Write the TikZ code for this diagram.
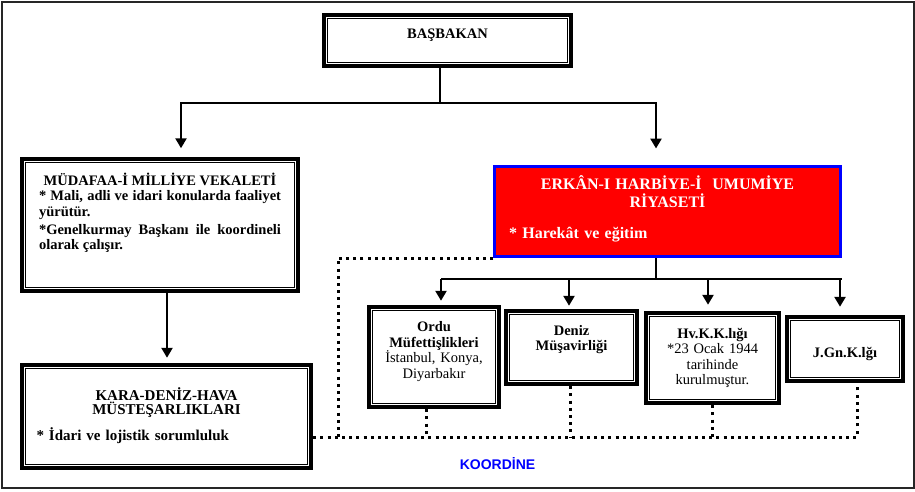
\documentclass[tikz,border=0pt]{standalone}
\usepackage{fontspec}
\setmainfont{Liberation Serif}
\newfontfamily\arialfont{Liberation Sans}
\usetikzlibrary{arrows.meta}
\hyphenpenalty=10000

\begin{document}
\begin{tikzpicture}[x=1pt, y=-1pt, >={Triangle[width=11pt,length=10pt]},
  kutu/.style={draw, line width=4.5pt, inner ysep=0pt, inner xsep=5pt, align=center, font=\fontsize{14.5}{15.5}\selectfont\bfseries},
  kirmizi/.style={draw=blue, fill=red, line width=3pt, text=white, inner ysep=0pt, align=left, font=\fontsize{16}{18}\selectfont\bfseries},
  ok/.style={line width=2.8pt},
  nokta/.style={line width=3pt, dash pattern=on 3pt off 4.2pt}]
\useasboundingbox (0,0) rectangle (915,491);
\draw[line width=2pt, black!85] (1.5,1.5) rectangle (913.5,487.5);

\node[kutu, inner xsep=0pt, text width=247pt, text height=23.5pt, text depth=27.5pt] (bas) at (447.5,40.5) {BAŞBAKAN};
\node[kutu, align=justify, inner xsep=17pt, text width=242pt, text height=26pt, text depth=106pt] (mud) at (160,225)
  {{\centering MÜDAFAA-İ MİLLİYE VEKALETİ\par}
   * Mali, adli ve idari konularda faaliyet yürütür.\par\vspace{2.5pt}
   *Genelkurmay Başkanı ile koordineli olarak çalışır.};
\node[kutu, align=left, inner xsep=14.5pt, text width=260pt, text height=35pt, text depth=68pt, font=\fontsize{15}{14.5}\selectfont\bfseries] (kara) at (166.5,416.5)
  {{\centering KARA-DENİZ-HAVA\\ MÜSTEŞARLIKLARI\par}\vspace{9pt}* İdari ve lojistik sorumluluk};
\node[kirmizi, inner xsep=14.5pt, text width=317pt, text height=22.5pt, text depth=67.5pt] (red) at (667.5,211.5)
  {{\centering ERKÂN-I HARBİYE-İ\ \ UMUMİYE\\ RİYASETİ\par}\vspace{13pt}* Harekât ve eğitim};
\node[kutu, text width=120pt, text height=24.5pt, text depth=75.5pt] (ordu) at (434,357) {Ordu\\ Müfettişlikleri\\ \mdseries İstanbul, Konya,\\ Diyarbakır};
\node[kutu, text width=121pt, text height=24pt, text depth=49pt] (den) at (571.5,347.5) {Deniz\\ Müşavirliği};
\node[kutu, text width=123pt, text height=25pt, text depth=65pt] (hv) at (712.5,358) {Hv.K.K.lığı\\ \mdseries *23 Ocak 1944\\ tarihinde\\ kurulmuştur.};
\node[kutu, text width=106pt, text height=40pt, text depth=24pt] (jgn) at (845,349) {J.Gn.K.lğı};
\node[anchor=base, text=blue, font=\arialfont\bfseries\fontsize{14}{16}\selectfont] (koord) at (497.5,469) {KOORDİNE};

\foreach \n in {bas,mud,kara,ordu,den,hv,jgn}
  \draw[line width=1.2pt] ([xshift=5.5pt,yshift=-5.5pt]\n.north west) rectangle ([xshift=-5.5pt,yshift=5.5pt]\n.south east);

\coordinate (bj) at (440,103);
\draw[ok] ([xshift=-7.5pt]bas.south) -- (bj);
\draw[ok,->] (bj) -| ([xshift=21pt,yshift=8.5pt]mud.north);
\draw[ok,->] (bj) -| ([xshift=-11.5pt,yshift=16.5pt]red.north);
\draw[ok,->] ([xshift=7pt]mud.south) -- ([xshift=0.5pt,yshift=5pt]kara.north);

\coordinate (rj) at (656,279);
\draw[ok] ([xshift=-11.5pt]red.south) -- (rj);
\draw[ok] ([xshift=7pt]ordu.north |- rj) -- ([xshift=-3pt]jgn.north |- rj);
\foreach \n/\dx/\dy in {ordu/7/4, den/-2.5/3, hv/-4.5/6, jgn/-5/8}
  \draw[ok,->] ([xshift=\dx pt]\n.north |- rj) -- ([xshift=\dx pt,yshift=\dy pt]\n.north);

\coordinate (dk) at (338,437);
\draw[nokta] (red.south west) -| (dk);
\draw[nokta] (kara.east |- dk) -| ([xshift=12pt]jgn.south);
\foreach \n/\dx in {ordu/-8, den/-1.5, hv/0}
  \draw[nokta] ([xshift=\dx pt]\n.south) -- ([xshift=\dx pt]\n.south |- dk);
\end{tikzpicture}
\end{document}
